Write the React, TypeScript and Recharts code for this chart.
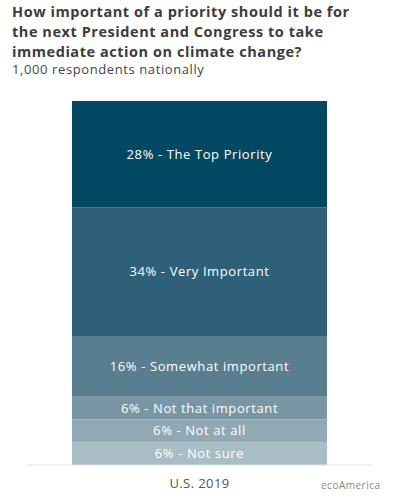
import React from 'react';
import { BarChart, Bar, XAxis, YAxis, LabelList } from 'recharts';

const categories = ['U.S. 2019'];
const seriesNames = ['Not sure', 'Not at all', 'Not that important', 'Somewhat important', 'Very Important', 'The Top Priority'];
const seriesKeys = ['notSure', 'notAtAll', 'notThat', 'somewhat', 'very', 'top'];
const seriesValues = [6, 6, 6, 16, 34, 28];
const seriesColors = ['#a9bdc6', '#90a9b5', '#7896a4', '#587e8f', '#2e6079', '#034862'];
const titleLines = [
  'How important of a priority should it be for',
  'the next President and Congress to take',
  'immediate action on climate change?',
];
const subtitle = '1,000 respondents nationally';
const credit = 'ecoAmerica';

const data = categories.map((c) => {
  const row: Record<string, string | number> = { category: c };
  seriesKeys.forEach((k, i) => { row[k] = seriesValues[i]; });
  return row;
});

const FONT = "'Open Sans', 'Noto Sans', sans-serif";

export default function App() {
  return (
    <div style={{ position: 'absolute', left: 0, top: 0, width: 398, height: 500, background: '#fff', fontFamily: FONT }}>
      <div style={{ position: 'absolute', left: 12, top: 2, width: 386, color: '#3c3c3c', fontWeight: 700, fontSize: 14.5, letterSpacing: 0.55, lineHeight: '20px', whiteSpace: 'nowrap' }}>
        {titleLines.map((l) => (<div key={l}>{l}</div>))}
      </div>
      <div style={{ position: 'absolute', left: 12, top: 63, color: '#444', fontSize: 13, letterSpacing: 0.6, lineHeight: '12px', whiteSpace: 'nowrap' }}>
        {subtitle}
      </div>
      <div style={{ position: 'absolute', left: 0, top: 0 }}>
        <BarChart width={398} height={500} data={data} margin={{ top: 101, right: 26, bottom: 0, left: 27 }}>
          <YAxis hide domain={[0, 96]} />
          <XAxis
            dataKey="category"
            height={35}
            axisLine={{ stroke: '#e2e2e2' }}
            tickLine={false}
            tick={{ fill: '#555', fontSize: 13, fontFamily: FONT, letterSpacing: 0.4 }}
            tickMargin={8}
          />
          {seriesKeys.map((k, i) => (
            <Bar key={k} dataKey={k} stackId="a" fill={seriesColors[i]} barSize={255} isAnimationActive={false}>
              <LabelList
                dataKey={k}
                position="center"
                fill="#ffffff"
                fontSize={13}
                fontFamily={FONT}
                letterSpacing={0.6}
                formatter={(v: number) => `${v}% - ${seriesNames[i]}`}
              />
            </Bar>
          ))}
        </BarChart>
      </div>
      <div style={{ position: 'absolute', left: 321, top: 478, color: '#888', fontSize: 10, letterSpacing: 0.5, whiteSpace: 'nowrap' }}>{credit}</div>
    </div>
  );
}
